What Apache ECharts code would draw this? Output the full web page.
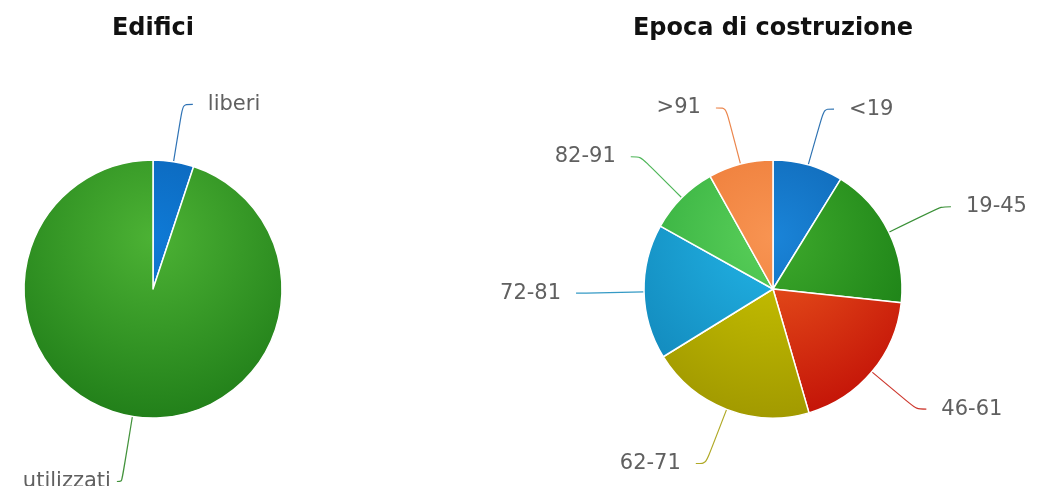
<!DOCTYPE html>
<html>
<head>
<meta charset="utf-8">
<script src="https://cdn.jsdelivr.net/npm/echarts@6/dist/echarts.min.js"></script>
<style>
html,body{margin:0;padding:0;background:#fff;}
#chart{width:1039px;height:486px;}
</style>
</head>
<body>
<div id="chart"></div>
<script>
// ---- data ----
var edificiTitle = 'Edifici';
var edificiNames = ['liberi', 'utilizzati'];
var edificiValues = [5.1, 94.9];

var epocaTitle = 'Epoca di costruzione';
var epocaNames = ['<19', '19-45', '46-61', '62-71', '72-81', '82-91', '>91'];
var epocaValues = [8.8, 17.9, 18.8, 20.7, 16.9, 8.8, 8.1];

// ---- styles ----
var edificiLight = ['#0f7ad6', '#4cb234'];
var edificiDark  = ['#0a5aa8', '#22801a'];
var epocaLight = ['#1a84d8', '#3eaa2c', '#ec5a1e', '#ccc600', '#22b4e6', '#5ad05a', '#f89452'];
var epocaDark  = ['#0a5aa5', '#187c14', '#c41408', '#a29a00', '#1288bb', '#2ea83a', '#e8702c'];

var R = 129;
var leftC = [153, 289];
var rightC = [773, 289];

function grad(light, dark, center) {
  return {
    type: 'radial', global: true,
    x: center[0], y: center[1] - R + 0.3 * 2 * R, r: 0.7 * 2 * R,
    colorStops: [{offset: 0, color: light}, {offset: 1, color: dark}]
  };
}
function buildData(names, values, light, dark, center, extra) {
  return names.map(function (n, i) {
    var d = {
      name: n, value: values[i],
      itemStyle: {color: grad(light[i], dark[i], center)},
      labelLine: {lineStyle: {color: dark[i], opacity: 0.85}}
    };
    if (extra && extra[n]) {
      d.labelLine.length = extra[n].length;
      d.labelLine.length2 = extra[n].length2;
      d.label = {distanceToLabelLine: extra[n].dist};
    }
    return d;
  });
}
function pieSeries(names, values, light, dark, center, extra) {
  return {
    type: 'pie',
    center: center,
    radius: R,
    startAngle: 90,
    clockwise: true,
    avoidLabelOverlap: false,
    animation: false,
    silent: true,
    itemStyle: {borderColor: '#ffffff', borderWidth: 1.5},
    label: {
      show: true, position: 'outside',
      formatter: '{b}',
      color: '#606060',
      fontFamily: 'DejaVu Sans',
      fontSize: 21,
      distanceToLabelLine: 15
    },
    labelLine: {show: true, length: 58, length2: 10, smooth: 0.3, lineStyle: {width: 1.2}},
    data: buildData(names, values, light, dark, center, extra)
  };
}

var chart = echarts.init(document.getElementById('chart'), null, {renderer: 'canvas'});
chart.setOption({
  backgroundColor: '#ffffff',
  animation: false,
  title: [
    {text: edificiTitle, left: leftC[0], top: 17, padding: 0, textAlign: 'center',
     textStyle: {fontFamily: 'DejaVu Sans', fontWeight: 'bold', fontSize: 24, color: '#111111'}},
    {text: epocaTitle, left: rightC[0], top: 17, padding: 0, textAlign: 'center',
     textStyle: {fontFamily: 'DejaVu Sans', fontWeight: 'bold', fontSize: 24, color: '#111111'}}
  ],
  series: [
    pieSeries(edificiNames, edificiValues, edificiLight, edificiDark, leftC,
      {'utilizzati': {length: 66, length2: 5, dist: 6}}),
    pieSeries(epocaNames, epocaValues, epocaLight, epocaDark, rightC)
  ]
});
</script>
</body>
</html>
